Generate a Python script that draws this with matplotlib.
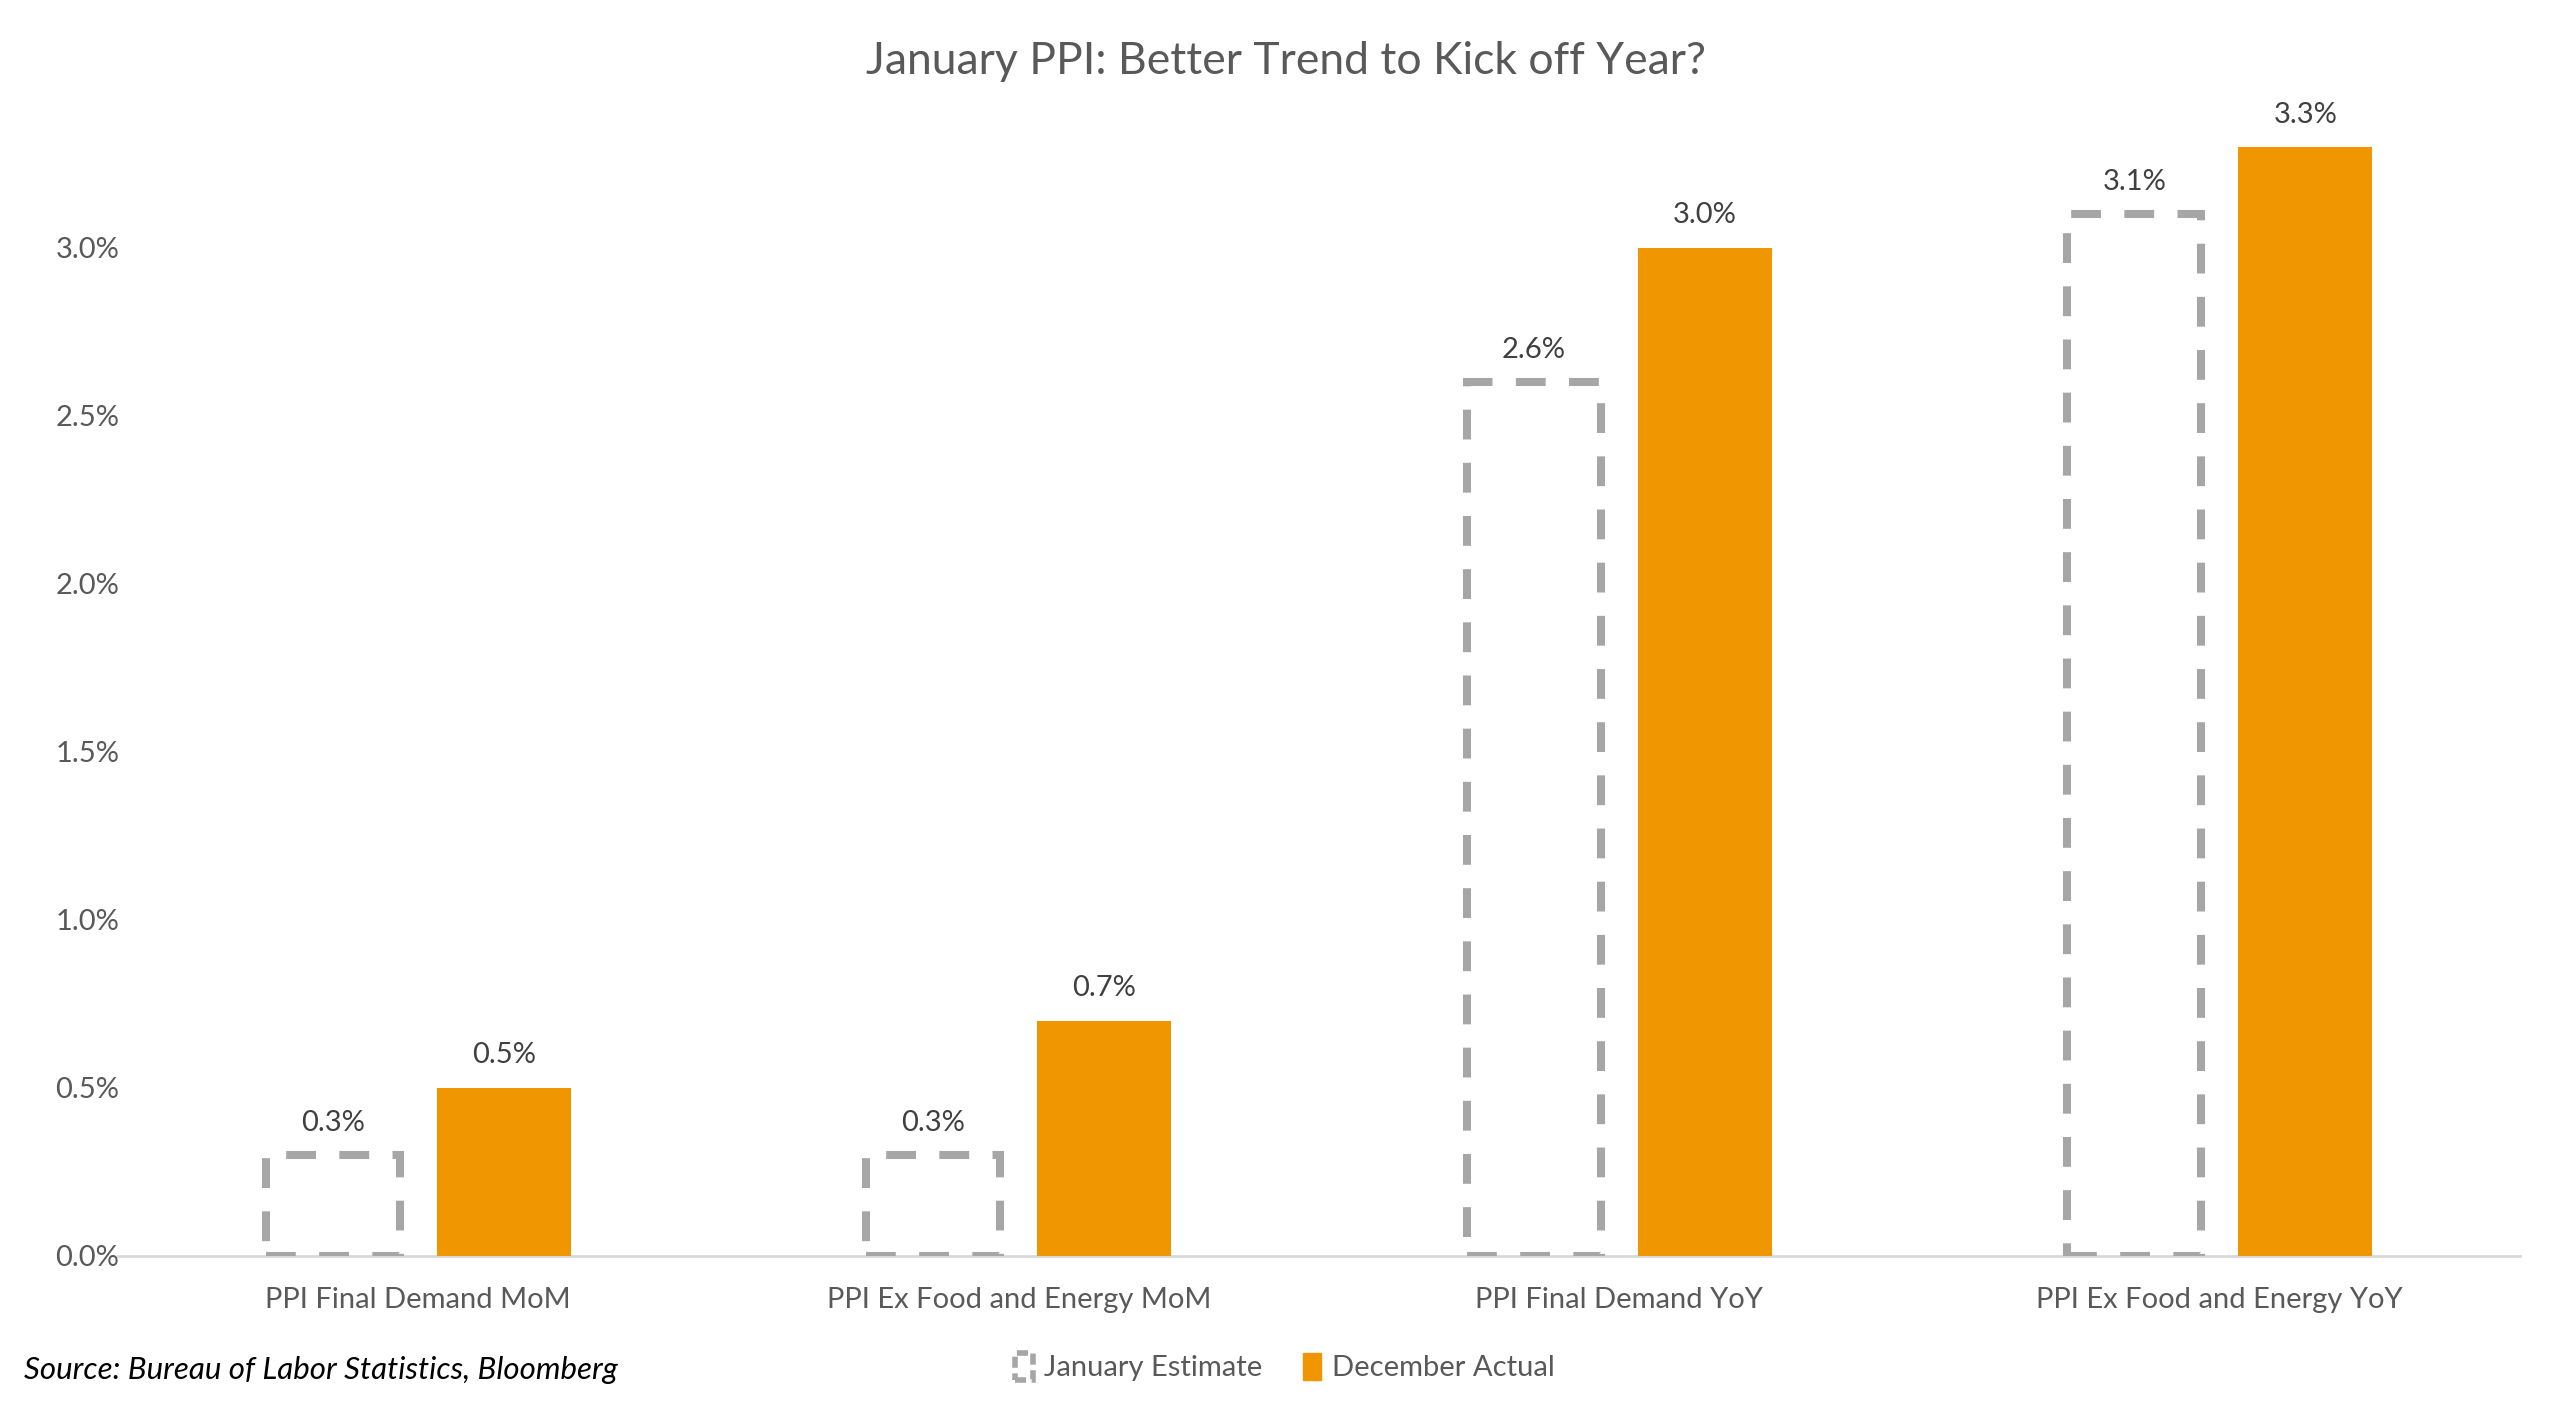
import matplotlib
matplotlib.use("Agg")
import matplotlib.pyplot as plt
from matplotlib.patches import Patch
import numpy as np

# PPI consensus vs prior month, values in percent
categories = ["PPI Final Demand MoM", "PPI Ex Food and Energy MoM",
              "PPI Final Demand YoY", "PPI Ex Food and Energy YoY"]
jan_estimate = [0.3, 0.3, 2.6, 3.1]
dec_actual = [0.5, 0.7, 3.0, 3.3]
yticks = [0.0, 0.5, 1.0, 1.5, 2.0, 2.5, 3.0]

orange = "#F09600"
gray = "#A6A6A6"

plt.rcParams['font.family'] = ['Lato', 'DejaVu Sans']

fig = plt.figure(figsize=(25.6, 14.2), dpi=100)
ax = fig.add_axes([0.0461, 0.1155, 0.9383, 0.8282])

x = np.arange(len(categories))
w = 0.223
off = 0.1425

ax.bar(x - off, jan_estimate, width=w, facecolor="none", edgecolor=gray,
       linewidth=5.8, linestyle=(0, (3.7, 2.9)), zorder=3)
ax.bar(x + off, dec_actual, width=w, color=orange, zorder=3)

for xi, v in zip(x - off, jan_estimate):
    ax.annotate(f"{v:.1f}%", (xi, v), xytext=(0, 23.5), textcoords="offset points",
                ha="center", va="center", fontsize=21, color="#404040")
for xi, v in zip(x + off, dec_actual):
    ax.annotate(f"{v:.1f}%", (xi, v), xytext=(0, 23.5), textcoords="offset points",
                ha="center", va="center", fontsize=21, color="#404040")

ax.set_xlim(-0.5, 3.5)
ax.set_ylim(0, 3.5)
ax.set_yticks(yticks)
ax.set_yticklabels([f"{t:.1f}%" for t in yticks])
ax.set_xticks(x)
ax.set_xticklabels(categories)
ax.tick_params(axis="both", length=0, labelsize=21, labelcolor="#595959")
ax.tick_params(axis="y", pad=45)
ax.tick_params(axis="x", pad=22)
for lab in ax.get_yticklabels():
    lab.set_horizontalalignment("left")

for s in ["top", "right", "left"]:
    ax.spines[s].set_visible(False)
ax.spines["bottom"].set_color("#D9D9D9")
ax.spines["bottom"].set_linewidth(2)

fig.text(0.5023, 0.9565, "January PPI: Better Trend to Kick off Year?", ha="center",
         va="center", fontsize=32, color="#595959")
fig.text(0.0094, 0.035, "Source: Bureau of Labor Statistics, Bloomberg", ha="left",
         va="center", fontsize=22.5, style="italic", color="black")

handles = [Patch(facecolor="none", edgecolor=gray, linewidth=4, linestyle=(0, (2, 1))),
           Patch(facecolor=orange, edgecolor=orange)]
fig.legend(handles, ["January Estimate", "December Actual"], loc="center",
           bbox_to_anchor=(0.502, 0.037), ncol=2, frameon=False, fontsize=21,
           labelcolor="#595959", handlelength=0.6, handleheight=1.0,
           handletextpad=0.4, columnspacing=1.4)

fig.savefig("out.png", dpi=100, facecolor="white")
